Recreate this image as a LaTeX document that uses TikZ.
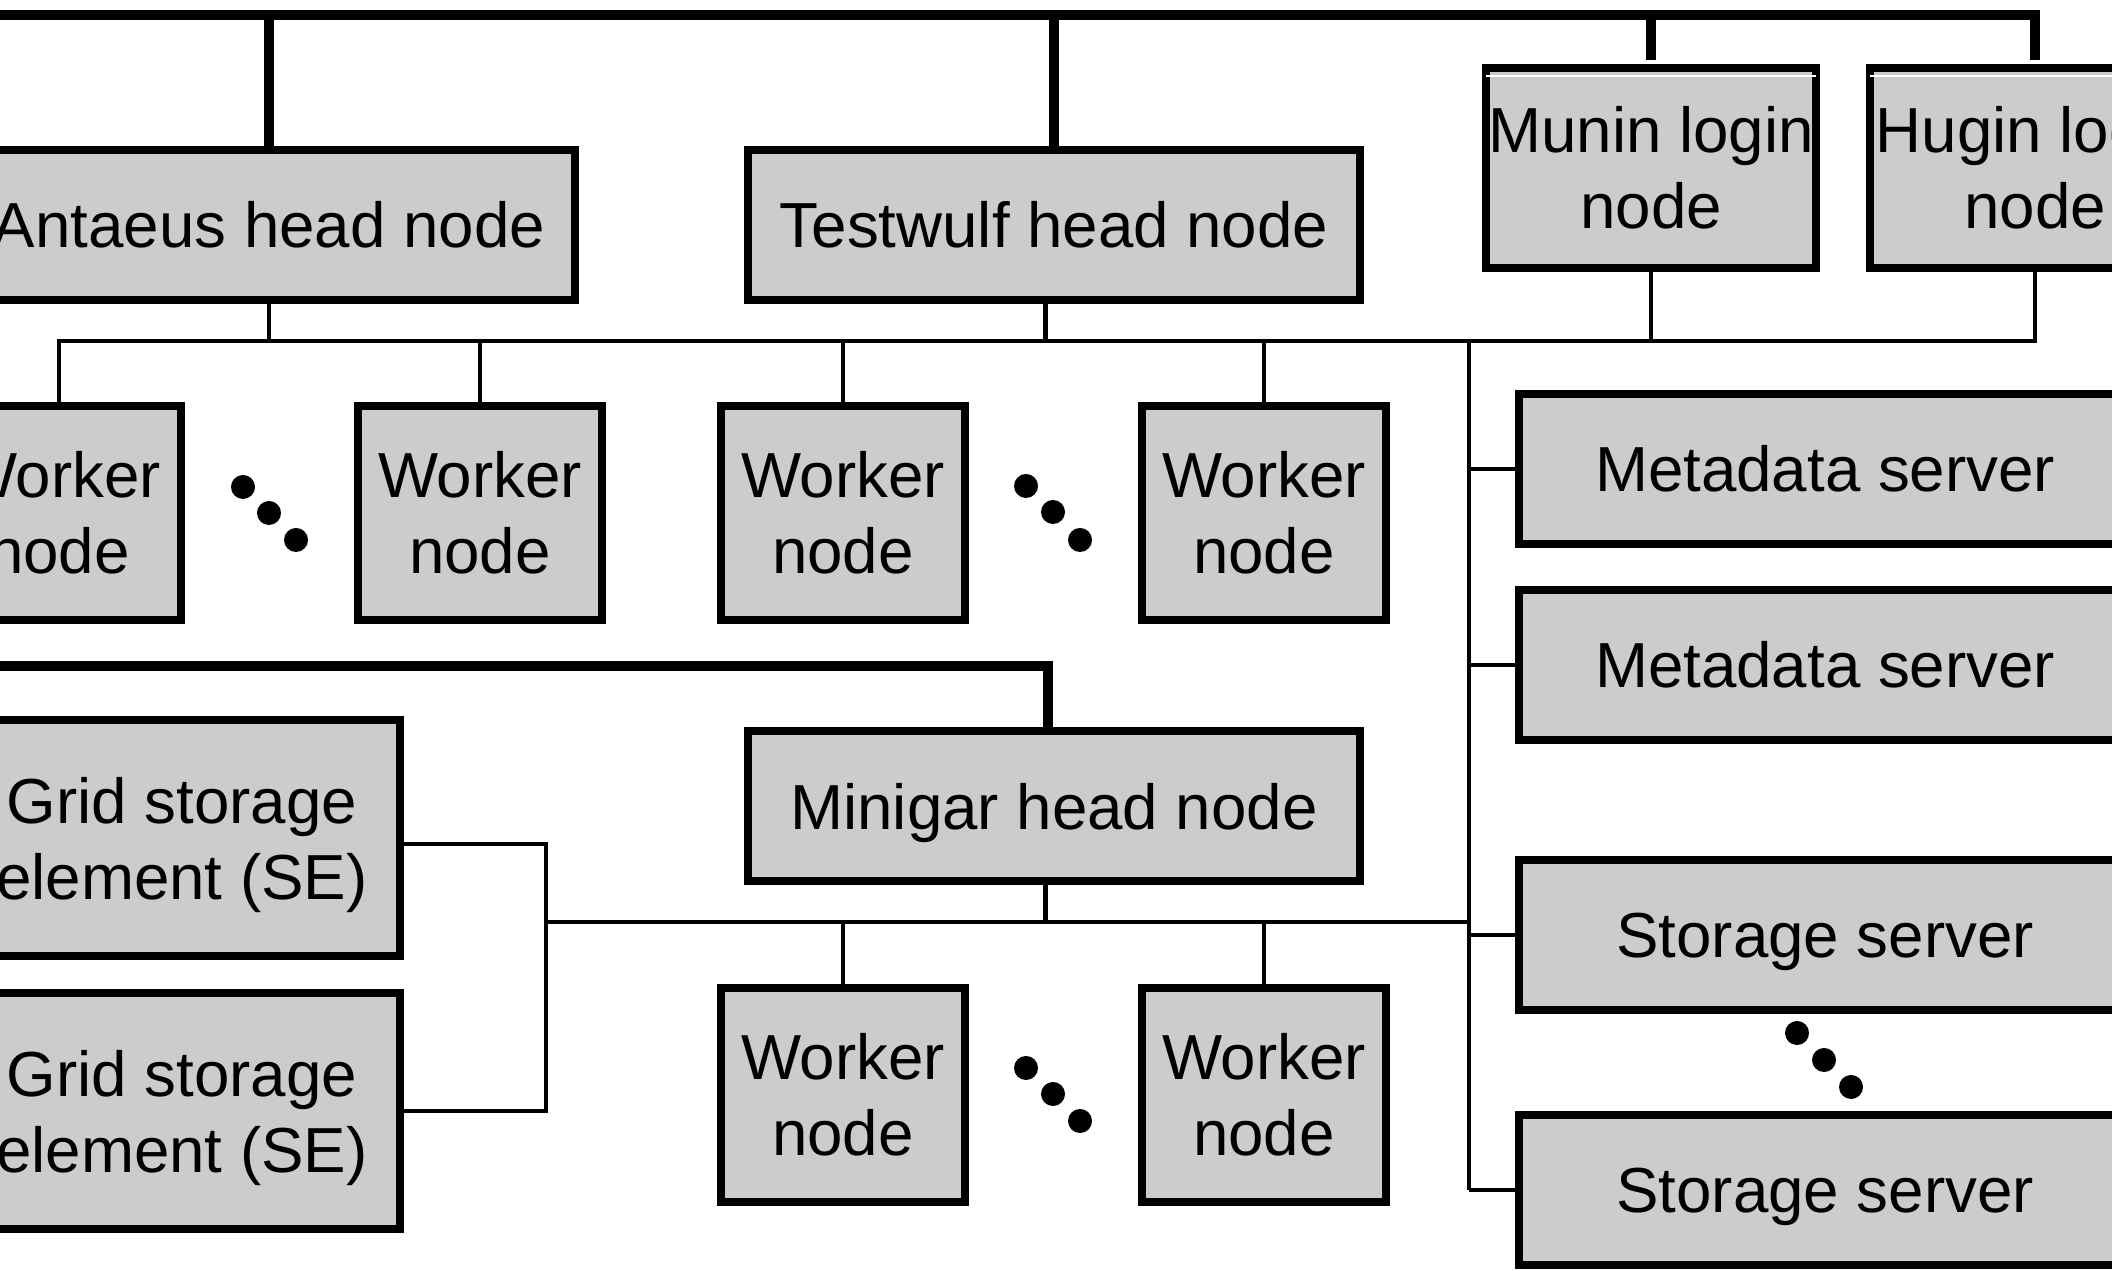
\documentclass[tikz,border=0pt]{standalone}
\usepackage{fontspec}
\setmainfont{Liberation Sans}
\definecolor{boxgray}{gray}{0.8}
% centre lines on their glyph tops and baseline, ignoring descenders
\newcommand\flatdepth[1]{\raisebox{0pt}[\height][0pt]{#1}}
\tikzset{
  unit box/.style={draw=black, line width=2.27pt, fill=boxgray, inner sep=0pt,
    align=center, font=\fontsize{18.1pt}{21.6pt}\selectfont},
  headbox/.style={unit box, minimum width=6.11cm, minimum height=1.49cm},
  loginbox/.style={unit box, minimum width=3.30cm, minimum height=2.00cm},
  workerbox/.style={unit box, minimum width=2.44cm, minimum height=2.13cm},
  serverbox/.style={unit box, minimum width=6.12cm, minimum height=1.49cm},
  gridbox/.style={unit box, minimum width=4.36cm, minimum height=2.35cm},
  bus/.style={line width=3.1pt, line join=miter},
  link/.style={line width=1.4pt},
  dotmark/.style={fill=black}
}
\begin{document}
\begin{tikzpicture}[x=0.01cm, y=-0.01cm]
\useasboundingbox (0,0) rectangle (2112,1271);
\clip (0,0) rectangle (2112,1271);

% cluster front ends
\node[headbox]  (ant)   at (269,225)  {Antaeus head node};
\node[headbox]  (test)  at (1054,225) {Testwulf head node};
\node[loginbox] (munin) at (1651,168) {Munin login\\node};
\node[loginbox] (hugin) at (2035,168) {Hugin login\\node};
% thin light seam under the top edge of the login boxes
\foreach \lb in {munin, hugin}
  \draw[white, line width=0.5pt]
    ([xshift=0.045cm, yshift=-0.12cm]\lb.north west) --
    ([xshift=-0.045cm, yshift=-0.12cm]\lb.north east);

% workers on the upper network
\node[workerbox] (w1) at (59,513)   {Worker\\node};
\node[workerbox] (w2) at (480,513)  {Worker\\node};
\node[workerbox] (w3) at (843,513)  {Worker\\node};
\node[workerbox] (w4) at (1264,513) {Worker\\node};

% file system servers
\node[serverbox] (md1) at (1825,469)  {Metadata server};
\node[serverbox] (md2) at (1825,665)  {Metadata server};
\node[serverbox] (st1) at (1825,935)  {\flatdepth{Storage server}};
\node[serverbox] (st2) at (1825,1190) {\flatdepth{Storage server}};

% Minigar part
\node[headbox]   (mini) at (1054,806)  {\flatdepth{Minigar head node}};
\node[workerbox] (w5)   at (843,1095)  {Worker\\node};
\node[workerbox] (w6)   at (1264,1095) {Worker\\node};
\node[gridbox]   (se1)  at (182,838)   {Grid storage\\\flatdepth{element (SE)}};
\node[gridbox]   (se2)  at (182,1111)  {Grid storage\\\flatdepth{element (SE)}};

% outer network
\coordinate (topL) at (0,15);
\draw[bus] (topL) -- (topL -| hugin.north) -- ([yshift=0.04cm]hugin.north);
\draw[bus] (ant.north)   -- (ant.north |- topL);
\draw[bus] (test.north)  -- (test.north |- topL);
\draw[bus] ([yshift=0.04cm]munin.north) -- (munin.north |- topL);

% upper internal network
\coordinate (lanL) at (0,341);
\coordinate (testdrop) at ([xshift=-0.085cm]test.south);
\draw[link] (w1.north) -- (w1.north |- lanL) -- (lanL -| hugin.south) -- (hugin.south);
\draw[link] (ant.south)   -- (ant.south |- lanL);
\draw[link] (testdrop)    -- (testdrop |- lanL);
\draw[link] (munin.south) -- (munin.south |- lanL);
\draw[link] (w2.north) -- (w2.north |- lanL);
\draw[link] (w3.north) -- (w3.north |- lanL);
\draw[link] (w4.north) -- (w4.north |- lanL);

% storage network
\coordinate (sanX) at (1469,0);
\draw[link] (sanX |- lanL) -- (sanX |- st2.west);
\draw[link] (md1.west) -- (md1.west -| sanX);
\draw[link] (md2.west) -- (md2.west -| sanX);
\draw[link] (st1.west) -- (st1.west -| sanX);
\draw[link] (st2.west) -- (st2.west -| sanX);

% Minigar uplink and local network
\coordinate (bus2L) at (0,666);
\coordinate (minitop) at ([xshift=-0.06cm]mini.north);
\coordinate (minidrop) at ([xshift=-0.085cm]mini.south);
\draw[bus] (bus2L) -| (minitop);
\coordinate (seX) at (546,0);
\coordinate (lan2L) at (546,922);
\draw[link] (lan2L) -- (lan2L -| sanX);
\draw[link] (minidrop) -- (minidrop |- lan2L);
\draw[link] (w5.north) -- (w5.north |- lan2L);
\draw[link] (w6.north) -- (w6.north |- lan2L);
\draw[link] ([yshift=-0.06cm]se1.east) -- ([yshift=-0.06cm]se1.east -| seX)
  -- (se2.east -| seX) -- (se2.east);

% ellipsis dots
\foreach \px/\py in {243/487, 269/513, 296/540,
                     1026/486, 1053/512, 1080/540,
                     1026/1068, 1053/1094, 1080/1121,
                     1797/1033, 1824/1060, 1851/1087}
  \fill[dotmark] (\px,\py) circle [radius=0.12cm];
\end{tikzpicture}
\end{document}
